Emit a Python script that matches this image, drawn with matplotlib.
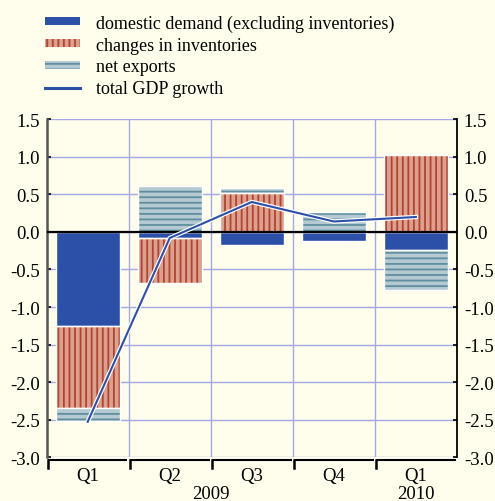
import matplotlib
matplotlib.use("Agg")
import matplotlib.pyplot as plt
import matplotlib.patheffects as pe
import matplotlib.transforms as mtrans
from matplotlib.patches import Patch
from matplotlib.lines import Line2D
import numpy as np

quarters = ["Q1", "Q2", "Q3", "Q4", "Q1"]
years = ["2009", "2010"]
domestic = [-1.25, -0.08, -0.17, -0.12, -0.24]
inventories = [-1.10, -0.60, 0.52, 0.00, 1.02]
net_exports = [-0.17, 0.61, 0.06, 0.26, -0.53]
total_gdp = [-2.53, -0.08, 0.40, 0.14, 0.20]
yticks = [1.5, 1.0, 0.5, 0.0, -0.5, -1.0, -1.5, -2.0, -2.5, -3.0]
labels = ["domestic demand (excluding inventories)", "changes in inventories",
          "net exports", "total GDP growth"]

BG = "#FFFDEB"
BLUE = "#2C4FA8"
INV_FACE = "#D9A28E"
INV_HATCH = "#B8402E"
NX_FACE = "#B4C9D2"
NX_HATCH = "#5F8E9E"
GRID = "#A3A8E6"
FS = 13.5

plt.rcParams["font.family"] = ["Liberation Serif", "DejaVu Serif"]
plt.rcParams["axes.unicode_minus"] = False
plt.rcParams["hatch.linewidth"] = 1.3

fig = plt.figure(figsize=(4.95, 5.02), dpi=100, facecolor=BG)
ax = fig.add_axes([0.0943, 0.0876, 0.8287, 0.6724], facecolor=BG)

x = np.arange(len(quarters))
width = 0.78

series = [
    (domestic, BLUE, None, BLUE),
    (inventories, INV_FACE, "|||", INV_HATCH),
    (net_exports, NX_FACE, "---", NX_HATCH),
]
pos_base = np.zeros(len(x))
neg_base = np.zeros(len(x))
for vals, face, hatch, hcol in series:
    vals = np.array(vals)
    bottoms = np.where(vals >= 0, pos_base, neg_base)
    ax.bar(x, vals, width, bottom=bottoms, color=face, hatch=hatch,
           edgecolor=hcol, linewidth=0, zorder=3)
    ax.bar(x, vals, width, bottom=bottoms, fill=False,
           edgecolor="white", linewidth=1.0, zorder=3.5)
    pos_base = pos_base + np.where(vals >= 0, vals, 0)
    neg_base = neg_base + np.where(vals < 0, vals, 0)

ax.plot(x, total_gdp, color=BLUE, linewidth=1.5, zorder=5,
        path_effects=[pe.Stroke(linewidth=3.2, foreground="white"), pe.Normal()])

ax.axhline(0, color="black", linewidth=1.6, zorder=4)

ax.set_xlim(-0.5, len(x) - 0.5)
ax.set_ylim(-3.0, 1.5)
ax.set_yticks(yticks)
ax.set_yticklabels([f"{v:.1f}" for v in yticks])
ax.tick_params(axis="y", labelsize=FS, length=3, direction="in", width=1.2,
               left=True, right=True, labelleft=True, labelright=True, pad=5)

ax.set_xticks(x)
ax.set_xticklabels(quarters)
ax.tick_params(axis="x", which="major", length=0, pad=7, labelsize=FS)

ax.grid(True, which="major", axis="y", color=GRID, linewidth=1.0, zorder=0)
for b in np.arange(0.5, len(x) - 0.5):
    ax.axvline(b, color=GRID, linewidth=1.0, zorder=0)

ax.spines["top"].set_visible(False)
ax.spines["bottom"].set_visible(False)
ax.spines["left"].set_color("#555555")
ax.spines["left"].set_linewidth(1.8)
ax.spines["right"].set_color("black")
ax.spines["right"].set_linewidth(1.3)

# bracket-style category axis below the plot
base = ax.get_xaxis_transform()
line_tr = mtrans.offset_copy(base, fig=fig, x=0, y=-3, units="dots")
tick_tr = mtrans.offset_copy(base, fig=fig, x=0, y=-11, units="dots")
for i in range(len(x)):
    x0 = i - 0.5 + 0.015
    x1 = i + 0.5 - 0.015
    ax.plot([x0, x1], [0, 0], color="black", linewidth=1.5, transform=line_tr,
            clip_on=False, solid_capstyle="butt", zorder=6)
    xt, yt = line_tr.transform((x0, 0))
    xb, yb = tick_tr.transform((x0, 0))
    fig.add_artist(Line2D([xt / fig.bbox.width, xb / fig.bbox.width],
                          [yt / fig.bbox.height, yb / fig.bbox.height],
                          color="black", linewidth=1.8, transform=fig.transFigure))

# year labels
ax.text(1.5, -0.108, years[0], transform=base, ha="center", va="center",
        fontsize=FS)
ax.text(4.0, -0.108, years[1], transform=base, ha="center", va="center",
        fontsize=FS)

handles = [
    Patch(facecolor=BLUE, edgecolor=BLUE, linewidth=0),
    Patch(facecolor=INV_FACE, edgecolor=INV_HATCH, hatch="|||", linewidth=0),
    Patch(facecolor=NX_FACE, edgecolor=NX_HATCH, hatch="---", linewidth=0),
    Line2D([0], [0], color=BLUE, linewidth=2.2),
]
leg = fig.legend(handles, labels, loc="upper left", bbox_to_anchor=(0.091, 0.969),
                 frameon=False, fontsize=13, handlelength=1.95, handleheight=0.33,
                 handletextpad=0.85, labelspacing=0.26, borderaxespad=0,
                 borderpad=0)

fig.savefig("out.png", dpi=100, facecolor=BG)
